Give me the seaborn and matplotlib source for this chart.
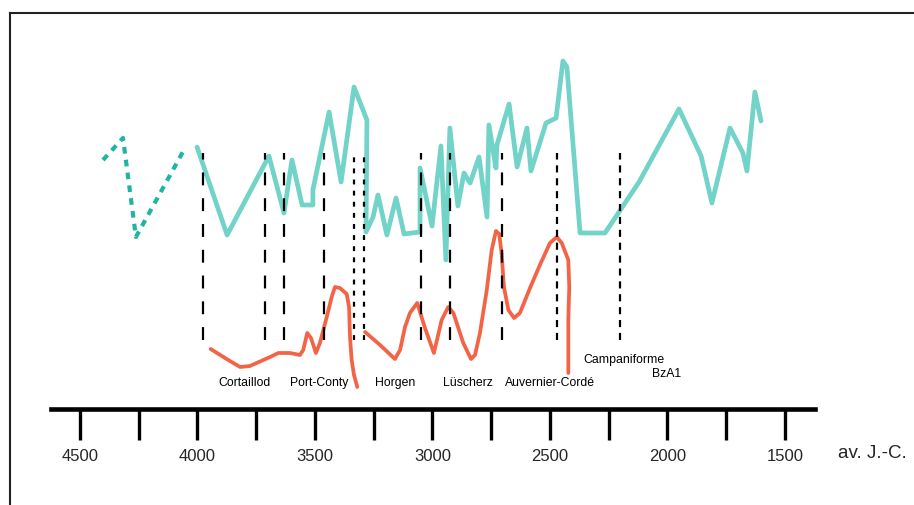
import matplotlib
matplotlib.use("Agg")
from matplotlib import pyplot as plt
import seaborn as sns

# time in years BC, values are relative heights (arbitrary units)
dotted_years = [4402, 4317, 4262, 4053]
dotted_vals = [249, 271, 172, 261]

teal_years = [4002, 3874, 3696, 3632, 3598, 3555, 3509, 3509, 3440, 3389,
              3334, 3279, 3283, 3253, 3232, 3194, 3155, 3121, 3053, 3053,
              3002, 2964, 2943, 2926, 2892, 2866, 2840, 2802, 2768, 2760,
              2730, 2726, 2674, 2640, 2598, 2581, 2517, 2474, 2445, 2428,
              2372, 2266, 2121, 1951, 1857, 1811, 1734, 1679, 1662, 1628, 1602]
teal_vals = [262, 174, 253, 196, 249, 204, 204, 219, 297, 227,
             322, 289, 177, 192, 214, 174, 211, 175, 177, 241,
             183, 263, 149, 281, 203, 236, 226, 252, 192, 284,
             241, 264, 305, 242, 281, 238, 286, 291, 348, 342,
             176, 176, 227, 300, 253, 206, 281, 256, 238, 317, 288]

red1_years = [3944, 3876, 3819, 3777, 3691, 3656, 3606, 3564, 3550, 3533,
              3517, 3496, 3479, 3450, 3429, 3415, 3394, 3365, 3355, 3351,
              3344, 3334, 3320]
red1_vals = [60, 50, 42, 43, 52, 56, 56, 54, 59, 76,
             71, 56, 66, 92, 112, 122, 121, 115, 102, 72,
             49, 34, 22]

red2_years = [3287, 3223, 3160, 3138, 3117, 3096, 3065, 3032, 2994, 2961,
              2933, 2911, 2869, 2836, 2819, 2798, 2769, 2748, 2730, 2716,
              2706, 2696, 2677, 2653, 2628, 2585, 2543, 2500, 2471, 2450,
              2422, 2418, 2422, 2422]
red2_vals = [77, 64, 50, 59, 82, 96, 106, 81, 56, 89,
             102, 96, 66, 50, 54, 76, 119, 159, 178, 175,
             156, 122, 99, 91, 96, 121, 144, 166, 172, 166,
             149, 122, 89, 36]

long_dash_years = [3977, 3713, 3632, 3462, 3049, 2926, 2704]
fine_dash_years = [3334, 3291]
short_dash_years = [2470, 2202]
dash_top, dash_bottom = 256, 69

periods = ["Cortaillod", "Port-Conty", "Horgen", "Lüscherz", "Auvernier-Cordé",
           "Campaniforme", "BzA1"]
period_years = [3798, 3483, 3160, 2849, 2502, 2187, 2006]
period_vals = [26, 26, 26, 26, 26, 49, 35]

major_ticks = [4500, 4000, 3500, 3000, 2500, 2000, 1500]
minor_ticks = [4250, 3750, 3250, 2750, 2250, 1750]

teal = "#72d3c8"
teal_dark = "#1fb4a3"
red = "#f26445"

sns.set_style("white")
plt.rcParams['font.family'] = ['Liberation Sans', 'DejaVu Sans']

fig = plt.figure(figsize=(9.14, 5.05), dpi=100)
ax = fig.add_axes([9.5 / 914, 0, 1 - 9.5 / 914, (505 - 13) / 505])

sns.lineplot(x=dotted_years, y=dotted_vals, ax=ax, color=teal_dark, lw=3,
             estimator=None, sort=False, linestyle=(0, (1.6, 1.5)))
sns.lineplot(x=teal_years, y=teal_vals, ax=ax, color=teal, lw=3.4,
             estimator=None, sort=False)
for yrs, vals in [(red1_years, red1_vals), (red2_years, red2_vals)]:
    sns.lineplot(x=yrs, y=vals, ax=ax, color=red, lw=2.7, estimator=None,
                 sort=False, solid_joinstyle="round", solid_capstyle="round")

ax.vlines(long_dash_years, dash_bottom, dash_top, color="black", lw=1.6,
          linestyles=[(0, (5.8, 5.8))])
ax.vlines(fine_dash_years, dash_bottom, dash_top, color="black", lw=1.6,
          linestyles=[(0, (2.2, 2.8))])
ax.vlines(short_dash_years, dash_bottom, dash_top, color="black", lw=1.6,
          linestyles=[(0, (3.2, 2.6))])

for name, yr, v in zip(periods, period_years, period_vals):
    ax.text(yr, v, name, ha="center", va="center", fontsize=8.8, color="black")

ax.text(1130, -44, "av. J.-C.", ha="center", va="center", fontsize=13.5)

ax.set_xlim(4800, 951)
ax.set_ylim(-96, 396)

# timeline axis
ax.spines['bottom'].set_position(('data', 0))
ax.spines['bottom'].set_bounds(4623, 1372)
ax.spines['bottom'].set_linewidth(3.3)
ax.spines['bottom'].set_color("black")
ax.spines['right'].set_visible(False)
for s in ['left', 'top']:
    ax.spines[s].set_linewidth(1.5)
    ax.spines[s].set_color("#222222")

ax.set_xticks(major_ticks)
ax.set_xticklabels([str(t) for t in major_ticks])
ax.set_xticks(minor_ticks, minor=True)
ax.tick_params(axis='x', which='both', direction='out', length=22.5, width=2.4,
               color="black", pad=6, labelsize=12, bottom=True)
ax.set_yticks([])
ax.set_xlabel("")
ax.set_ylabel("")

fig.savefig("out.png", dpi=100)
